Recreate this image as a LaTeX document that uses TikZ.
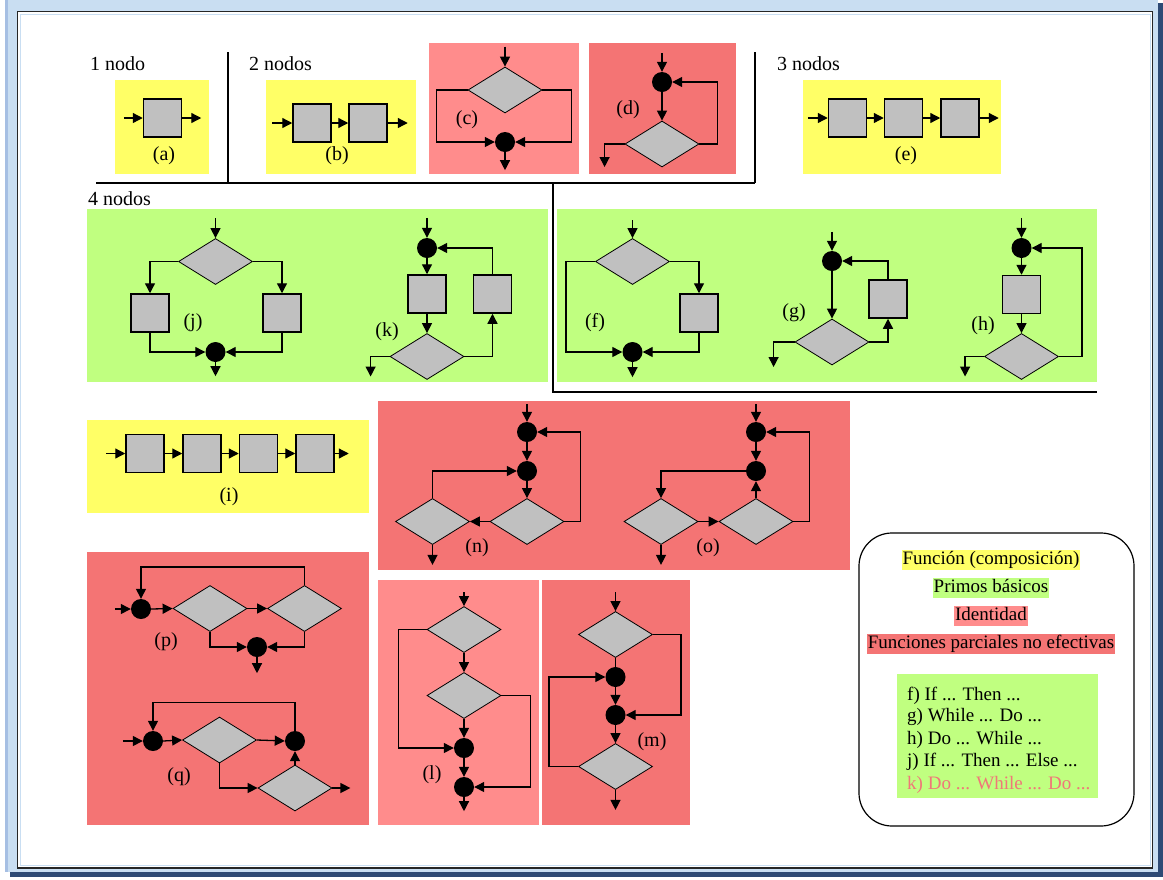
\documentclass[tikz,border=0pt]{standalone}
\usepackage{fontspec}
\setmainfont{Liberation Serif}
\usetikzlibrary{arrows.meta,shapes.geometric}
\definecolor{yel}{HTML}{FFFF66}
\definecolor{grn}{HTML}{C0FF80}
\definecolor{lpk}{HTML}{FF8C8C}
\definecolor{dpk}{HTML}{F47474}
\definecolor{gry}{HTML}{C0C0C0}
\definecolor{ktxt}{HTML}{F07878}
\definecolor{frameblue}{HTML}{C9DEF2}
\definecolor{framedark}{HTML}{A6BFE3}
\definecolor{navy}{HTML}{2E4A75}
\begin{document}
\begin{tikzpicture}[x=1pt,y=-1pt,
  sq/.style={draw=black, line width=1.5pt, fill=gry, minimum width=38pt, minimum height=38pt, inner sep=0pt},
  dm/.style={diamond, draw=black, line width=0.8pt, fill=gry, minimum width=74pt, minimum height=46pt, inner sep=0pt},
  jn/.style={circle, fill=black, minimum size=20pt, inner sep=0pt},
  ar/.style={-{Triangle[length=10pt,width=10pt]}, line width=1.3pt},
  ln/.style={line width=1.3pt},
  sep/.style={line width=1.3pt, black},
  lbl/.style={font=\fontsize{20}{24}\selectfont, inner sep=0pt},
  leg/.style={font=\fontsize{19}{23}\selectfont, inner sep=0pt},
  hl/.style={font=\fontsize{19}{23}\selectfont, inner xsep=1pt, inner ysep=1.5pt, text height=13pt, text depth=4pt}
]
\useasboundingbox (0,0) rectangle (1163,879);
% frame
\fill[white] (0,0) rectangle (1163,879);
\fill[navy] (10,872) rectangle (1163,877);
\fill[navy] (1158,3) rectangle (1163,877);
\fill[frameblue] (5,0) rectangle (1158,872);
\fill[framedark] (5,0) rectangle (8,872);
\draw[line width=1.5pt, draw=black!85, fill=white] (17.5,11.5) rectangle (1152.5,868);
\draw[line width=1pt, frameblue] (20,14) rectangle (1150,865);

% separators
\draw[sep] (96,183) -- (755,183);
\draw[sep] (228,52) -- (228,183);
\draw[sep] (755,52) -- (755,183);
\draw[sep] (553,183) -- (553,392) -- (1097,392);

% headers
\node[lbl, anchor=base west] (h1) at (90,70) {1 nodo};
\node[lbl, anchor=base west] (h2) at (249,70) {2 nodos};
\node[lbl, anchor=base west] (h3) at (777,70) {3 nodos};
\node[lbl, anchor=base west] (h4) at (88,205) {4 nodos};

% backgrounds
\fill[yel] (115,80) rectangle (209,174);
\fill[yel] (266,80) rectangle (416,174);
\fill[lpk] (429,43) rectangle (579,174);
\fill[dpk] (589,43) rectangle (736,174);
\fill[yel] (803,80) rectangle (1001,174);
\fill[grn] (87,209) rectangle (548,382);
\fill[grn] (557,209) rectangle (1097,382);
\fill[yel] (87,420) rectangle (369,513);
\fill[dpk] (378,401) rectangle (850,570);
\fill[dpk] (87,552) rectangle (369,825);
\fill[lpk] (378,580) rectangle (539,825);
\fill[dpk] (542,580) rectangle (690,825);

% (a)
\node[sq] (a1) at (162.5,118) {};
\draw[ar] (a1.west) ++(-19,0) -- (a1.west);
\draw[ar] (a1.east) -- ++(19,0);
\node[lbl] (la) at (164,156) {(a)};

% (b)
\node[sq] (b1) at (312,123) {};
\node[sq] (b2) at (368,123) {};
\draw[ar] (b1.west) ++(-20,0) -- (b1.west);
\draw[ar] (b1.east) -- (b2.west);
\draw[ar] (b2.east) -- ++(20,0);
\node[lbl] (lb) at (337,156) {(b)};

% (e)
\node[sq] (e1) at (847.5,118) {};
\node[sq] (e2) at (903.5,118) {};
\node[sq] (e3) at (960,118) {};
\draw[ar] (e1.west) ++(-20,0) -- (e1.west);
\draw[ar] (e1.east) -- (e2.west);
\draw[ar] (e2.east) -- (e3.west);
\draw[ar] (e3.east) -- ++(19,0);
\node[lbl] (le) at (906,156) {(e)};

% (c)
\node[dm] (cD) at (505,90) {};
\node[jn] (cJ) at (505,142) {};
\draw[ar] (cD.north) ++(0,-20) -- (cD.north);
\draw[ar] (cD.west) -- ++(-31,0) |- (cJ.west);
\draw[ar] (cD.east) -- ++(29,0) |- (cJ.east);
\draw[ar] (cJ.south) -- ++(0,18);
\node[lbl] (lc) at (467,120) {(c)};

% (d)
\node[jn] (dJ) at (662,82) {};
\node[dm] (dD) at (662,144) {};
\draw[ar] (dJ.north) ++(0,-19) -- (dJ.north);
\draw[ar] (dJ.south) -- (dD.north);
\draw[ar] (dD.east) -- ++(18,0) |- (dJ.east);
\draw[ar] (dD.west) -- ++(-20,0) -- ++(0,23);
\node[lbl] (ld) at (628,110) {(d)};

% (j)
\node[dm] (jD) at (215.5,261.5) {};
\node[sq] (jL) at (150,313) {};
\node[sq] (jR) at (282,313) {};
\node[jn] (jJ) at (215.5,352) {};
\draw[ar] (jD.north) ++(0,-20) -- (jD.north);
\draw[ar] (jD.west) -| (jL.north);
\draw[ar] (jD.east) -| (jR.north);
\draw[ar] (jL.south) |- (jJ.west);
\draw[ar] (jR.south) |- (jJ.east);
\draw[ar] (jJ.south) -- ++(0,14);
\node[lbl] (lj) at (193,323) {(j)};

% (k)
\node[jn] (kJ) at (427,248) {};
\node[sq] (kL) at (427,294) {};
\node[sq] (kR) at (492.5,294) {};
\node[dm] (kD) at (427,356.5) {};
\draw[ar] (kJ.north) ++(0,-20) -- (kJ.north);
\draw[ar] (kJ.south) -- (kL.north);
\draw[ar] (kL.south) -- (kD.north);
\draw[ar] (kD.east) -| (kR.south);
\draw[ar] (kR.north) |- (kJ.east);
\draw[ar] (kD.west) -- ++(-19,0) -- ++(0,20);
\node[lbl] (lk) at (387,332) {(k)};

% (f)
\node[dm] (fD) at (632.5,261.5) {};
\node[sq] (fS) at (699,313) {};
\node[jn] (fJ) at (632.5,352) {};
\draw[ar] (fD.north) ++(0,-18) -- (fD.north);
\draw[ar] (fD.west) -- ++(-29,0) |- (fJ.west);
\draw[ar] (fD.east) -| (fS.north);
\draw[ar] (fS.south) |- (fJ.east);
\draw[ar] (fJ.south) -- ++(0,15);
\node[lbl] (lf) at (595,323) {(f)};

% (g)
\node[jn] (gJ) at (832,261) {};
\node[dm] (gD) at (832,342) {};
\node[sq] (gS) at (888,299) {};
\draw[ar] (gJ.north) ++(0,-19) -- (gJ.north);
\draw[ar] (gJ.south) -- (gD.north);
\draw[ar] (gD.east) -| (gS.south);
\draw[ar] (gS.north) |- (gJ.east);
\draw[ar] (gD.west) -- ++(-21,0) -- ++(0,25);
\node[lbl] (lg) at (794,313) {(g)};

% (h)
\node[jn] (hJ) at (1021.5,248) {};
\node[sq] (hS) at (1021.5,294.5) {};
\node[dm] (hD) at (1021.5,356.5) {};
\draw[ar] (hJ.north) ++(0,-20) -- (hJ.north);
\draw[ar] (hJ.south) -- (hS.north);
\draw[ar] (hS.south) -- (hD.north);
\draw[ar] (hD.east) -- ++(23,0) |- (hJ.east);
\draw[ar] (hD.west) -- ++(-19,0) -- ++(0,20);
\node[lbl] (lh) at (983,326) {(h)};

% (i)
\node[sq] (i1) at (145,453.5) {};
\node[sq] (i2) at (202,453.5) {};
\node[sq] (i3) at (258.5,453.5) {};
\node[sq] (i4) at (315,453.5) {};
\draw[ar] (i1.west) ++(-19,0) -- (i1.west);
\draw[ar] (i1.east) -- (i2.west);
\draw[ar] (i2.east) -- (i3.west);
\draw[ar] (i3.east) -- (i4.west);
\draw[ar] (i4.east) -- ++(14,0);
\node[lbl] (li) at (229,497) {(i)};

% (n)
\node[jn] (n1) at (527,432) {};
\node[jn] (n2) at (527,471) {};
\node[dm] (nR) at (527,521.5) {};
\node[dm] (nL) at (432.5,521.5) {};
\draw[ar] (n1.north) ++(0,-18) -- (n1.north);
\draw[ar] (n1.south) -- (n2.north);
\draw[ar] (n2.south) -- (nR.north);
\draw[ar] (nR.east) -- ++(16,0) |- (n1.east);
\draw[ar] (nR.west) -- (nL.east);
\draw[ar] (nL.north) |- (n2.west);
\draw[ar] (nL.south) -- ++(0,20);
\node[lbl] (ln) at (477,548) {(n)};

% (o)
\node[jn] (o1) at (756,432) {};
\node[jn] (o2) at (756,471) {};
\node[dm] (oR) at (756,521.5) {};
\node[dm] (oL) at (661,521.5) {};
\draw[ar] (o1.north) ++(0,-18) -- (o1.north);
\draw[ar] (o1.south) -- (o2.north);
\draw[ar] (oR.north) -- (o2.south);
\draw[ar] (oR.east) -- ++(16,0) |- (o1.east);
\draw[ar] (o2.west) -| (oL.north);
\draw[ar] (oL.east) -- (oR.west);
\draw[ar] (oL.south) -- ++(0,20);
\node[lbl] (lo) at (708,548) {(o)};

% (p)
\node[jn] (p1) at (141,609) {};
\node[dm] (pD1) at (210,608.5) {};
\node[dm] (pD2) at (304.5,608.5) {};
\node[jn] (p2) at (257,647) {};
\draw[ar] (p1.west) ++(-16,0) -- (p1.west);
\draw[ar] (p1.east) -- (pD1.west);
\draw[ar] (pD1.east) -- (pD2.west);
\draw[ar] (pD2.north) -- ++(0,-18) -| (p1.north);
\draw[ar] (pD1.south) |- (p2.west);
\draw[ar] (pD2.south) |- (p2.east);
\draw[ar] (p2.south) -- ++(0,16);
\node[lbl] (lp) at (166,642) {(p)};

% (q)
\node[jn] (q1) at (153,741) {};
\node[dm] (qD1) at (219.5,740) {};
\node[jn] (q2) at (295,741) {};
\node[dm] (qD2) at (295,788) {};
\draw[ar] (q1.west) ++(-20,0) -- (q1.west);
\draw[ar] (q1.east) -- (qD1.west);
\draw[ar] (qD1.east) -- (q2.west);
\draw[ar] (q2.north) -- ++(0,-28) -| (q1.north);
\draw[ar] (qD1.south) |- (qD2.west);
\draw[ar] (qD2.north) -- (q2.south);
\draw[ar] (qD2.east) -- ++(18,0);
\node[lbl] (lq) at (179,777) {(q)};

% (l)
\node[dm] (lD1) at (464,629.5) {};
\node[dm] (lD2) at (464,695.5) {};
\node[jn] (l1) at (464,748) {};
\node[jn] (l2) at (464,787) {};
\draw[ar] (lD1.north) ++(0,-14) -- (lD1.north);
\draw[ar] (lD1.south) -- (lD2.north);
\draw[ar] (lD1.west) -- ++(-28,0) |- (l1.west);
\draw[ar] (lD2.south) -- (l1.north);
\draw[ar] (l1.south) -- (l2.north);
\draw[ar] (lD2.east) -- ++(29,0) |- (l2.east);
\draw[ar] (l2.south) -- ++(0,14);
\node[lbl] (ll) at (432,775) {(l)};

% (m)
\node[dm] (mD1) at (615.5,634.5) {};
\node[jn] (m1) at (615.5,677) {};
\node[jn] (m2) at (615.5,715) {};
\node[dm] (mD2) at (615.5,766.5) {};
\draw[ar] (mD1.north) ++(0,-19) -- (mD1.north);
\draw[ln] (mD1.south) -- (m1.north);
\draw[ar] (m1.south) -- (m2.north);
\draw[ar] (mD1.east) -- ++(28,0) |- (m2.east);
\draw[ar] (m2.south) -- (mD2.north);
\draw[ar] (mD2.west) -- ++(-29,0) |- (m1.west);
\draw[ar] (mD2.south) -- ++(0,20);
\node[lbl] (lm) at (652,742) {(m)};

% legend
\draw[line width=1.2pt, rounded corners=33pt] (859,533) rectangle (1134,826);
\node[hl, fill=yel] (L1) at (991,560) {Función (composición)};
\node[hl, fill=grn] (L2) at (991,588) {Primos básicos};
\node[hl, fill=lpk] (L3) at (991,616) {Identidad};
\node[hl, fill=dpk] (L4) at (991,644) {Funciones parciales no efectivas};
\fill[grn] (897,674) rectangle (1098,798);
\node[leg, anchor=base west] (t1) at (907,700) {f) If ... Then ...};
\node[leg, anchor=base west] (t2) at (907,721.5) {g) While ... Do ...};
\node[leg, anchor=base west] (t3) at (907,744) {h) Do ... While ...};
\node[leg, anchor=base west] (t4) at (907,766.5) {j) If ... Then ... Else ...};
\node[leg, anchor=base west, text=ktxt] (t5) at (907,789) {k) Do ... While ... Do ...};
\end{tikzpicture}
\end{document}
